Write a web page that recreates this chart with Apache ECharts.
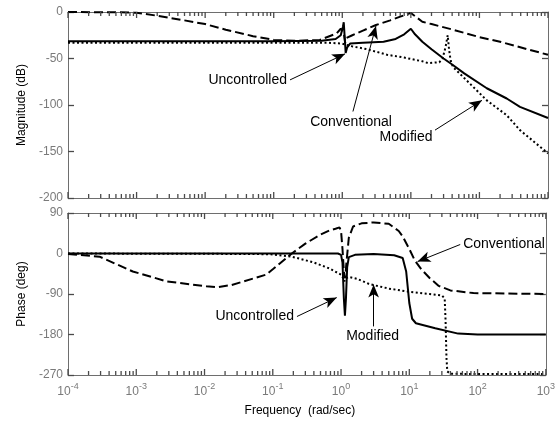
<!DOCTYPE html>
<html>
<head>
<meta charset="utf-8">
<script src="https://cdn.jsdelivr.net/npm/echarts@6/dist/echarts.min.js"></script>
<style>html,body{margin:0;padding:0;background:#fff;}#c{width:558px;height:424px;}</style>
</head>
<body>
<div id="c"></div>
<script>
// ---------- Magnitude (dB) ----------
const magUncF  = [1e-4, 0.1, 0.5, 0.8, 0.95, 1.02, 1.05, 1.08, 1.12, 1.18, 1.3, 2, 4, 6, 8, 10, 11.5, 14.7, 20, 30, 41, 60, 128, 250, 390, 1000];
const magUncDb = [-31.5, -31.5, -31, -29, -25, -16, -11, -25, -44, -38, -34, -33, -32, -29, -24, -18, -24, -32, -40, -50, -57, -66, -82, -93, -102, -114];

const magConF  = [1e-4, 5e-4, 1e-3, 2e-3, 5e-3, 1e-2, 2e-2, 5e-2, 0.1, 0.2, 0.47, 0.83, 0.95, 1.0, 1.05, 1.1, 1.15, 1.4, 2, 3.1, 5, 7, 10, 14.7, 20, 41, 100, 200, 500, 1000];
const magConDb = [0, -0.3, -0.8, -4, -9, -13, -19, -26, -30, -31, -30, -23, -18, -16, -22, -33, -28, -25, -20, -14, -9, -5, -1, -10.5, -13, -19, -27, -32, -40, -46];

const magModF  = [1e-4, 0.3, 0.6, 1, 1.4, 2.3, 4.5, 8, 14.7, 18, 26, 29, 32, 34.5, 36, 38, 41, 60, 128, 250, 390, 1000];
const magModDb = [-33, -33, -33, -34, -37, -40, -46, -49, -53, -55, -54, -50, -38, -25, -40, -52, -59, -71, -95, -111, -127, -152];

// ---------- Phase (deg) ----------
const phUncF   = [1e-4, 0.9, 1.0, 1.05, 1.1, 1.14, 1.18, 1.23, 1.3, 1.6, 3, 6, 8, 9, 10, 11, 12.5, 24, 52, 100, 1000];
const phUncDeg = [0, 0, -3, -20, -100, -138, -100, -30, -8, -3, -1, -4, -10, -40, -110, -145, -155, -166, -178, -180, -180];

const phConF   = [1e-4, 2.9e-4, 8.9e-4, 2.8e-3, 1.06e-2, 1.5e-2, 2.5e-2, 0.08, 0.1, 0.12, 0.19, 0.3, 0.5, 0.67, 0.83, 0.95, 1.0, 1.05, 1.1, 1.15, 1.2, 1.3, 1.5, 2, 3, 5, 7, 8, 10, 12, 15, 20, 27, 40, 87, 1000];
const phConDeg = [-1, -7, -40, -62, -73, -75, -70, -47, -35, -25, 0, 22, 42, 51, 55, 58, 50, 10, -40, -55, -20, 35, 60, 67, 69, 66, 50, 38, 10, -15, -35, -55, -72, -82, -88, -90];

const phModF   = [1e-4, 0.05, 0.1, 0.19, 0.4, 0.67, 1.0, 1.08, 1.12, 1.17, 1.3, 1.7, 2.6, 5, 10, 20, 30, 33, 34, 35, 36, 40, 100, 1000];
const phModDeg = [0, -1, -2, -7, -20, -33, -47, -55, -62, -55, -52, -56, -68, -78, -85, -90, -93, -100, -150, -230, -262, -267, -268, -268];

// ---------- Axis ticks ----------
const xDecades = [-4, -3, -2, -1, 0, 1, 2, 3];

// ---------- Annotations ----------
const magNotes = [
  {text: 'Uncontrolled', at: [0.167, -73], pos: 'left',   arrow: [[0.173, -73], [1.10, -45]]},
  {text: 'Conventional', at: [1.34, -118], pos: 'inside', arrow: [[1.43, -107], [3.1, -15]]},
  {text: 'Modified',     at: [8.5, -135],  pos: 'inside', arrow: [[22.5, -127], [109, -95]]}
];
const phNotes = [
  {text: 'Uncontrolled', at: [0.219, -140], pos: 'left',   arrow: [[0.226, -140], [0.865, -98]]},
  {text: 'Modified',     at: [2.9, -184],   pos: 'inside', arrow: [[3.0, -162], [3.0, -69]]},
  {text: 'Conventional', at: [57.5, 20],    pos: 'right',  arrow: [[55.7, 20], [13.2, -18]]}
];

const zip = (f, v) => f.map((x, i) => [x, v[i]]);
const xTicks = [];
xDecades.forEach(d => { for (let m = 1; m <= 9; m++) { const v = m * Math.pow(10, d); if (v <= 1000.0001) xTicks.push([Number(v.toPrecision(6)), m === 1 ? 1 : 0]); } });

const grey = '#6e6e6e';
const tickColor = '#4a4a4a';
const labelGrey = '#7a7a7a';
const FONT = 'Liberation Sans, Arial, sans-serif';

function xAxisDef(gridIndex, position, showLabel) {
  return {
    type: 'log', logBase: 10, min: 1e-4, max: 1e3, gridIndex, position,
    axisLine: {show: true, onZero: false, lineStyle: {color: grey, width: 1}},
    axisTick: {show: false},
    splitLine: {show: false}, minorTick: {show: false},
    axisLabel: showLabel ? {
      show: true, margin: 7, color: labelGrey, fontFamily: FONT,
      customValues: xDecades.map(d => Math.pow(10, d)),
      formatter: v => '{b|10}{s|' + Math.round(Math.log10(v)) + '}',
      rich: {b: {fontSize: 12, lineHeight: 20, color: labelGrey, fontFamily: FONT},
             s: {fontSize: 9, lineHeight: 7, verticalAlign: 'top', color: labelGrey, fontFamily: FONT}}
    } : {show: false},
    name: showLabel ? 'Frequency  (rad/sec)' : '',
    nameLocation: 'middle', nameGap: 30,
    nameTextStyle: {fontSize: 12, color: '#000', fontFamily: FONT, padding: [0, 14, 0, 0]}
  };
}
function yAxisDef(gridIndex, position, min, max, interval, name) {
  const left = position === 'left';
  return {
    type: 'value', gridIndex, position, min, max, interval,
    axisLine: {show: true, onZero: false, lineStyle: {color: grey, width: 1}},
    axisTick: {show: true, inside: true, length: 6, lineStyle: {color: tickColor, width: 1.3}},
    splitLine: {show: false},
    axisLabel: left ? {show: true, margin: 5, color: labelGrey, fontSize: 12, fontFamily: FONT} : {show: false},
    name: left ? name : '', nameLocation: 'middle', nameGap: 40,
    nameTextStyle: {fontSize: 12, color: '#000', fontFamily: FONT}
  };
}
function noteMarks(notes) {
  return {
    markLine: {
      silent: true, symbol: ['none', 'arrow'], symbolSize: [8, 13],
      lineStyle: {color: '#000', width: 1, type: 'solid'}, label: {show: false},
      data: notes.map(n => [{coord: n.arrow[0]}, {coord: n.arrow[1]}])
    },
    markPoint: {
      silent: true, symbol: 'circle', symbolSize: 0,
      data: notes.map(n => ({coord: n.at, label: {show: true, position: n.pos, distance: 2, formatter: n.text,
        color: '#000', fontSize: 14, fontFamily: FONT}}))
    }
  };
}
// log-spaced inside ticks (top and bottom edge of each panel), placed through the axis scale
function xTickSeries(xIdx, yIdx, yMid) {
  return {
    type: 'custom', xAxisIndex: xIdx, yAxisIndex: yIdx, clip: false, z: 10,
    data: xTicks.map(t => [t[0], yMid, t[1]]),
    renderItem: (params, api) => {
      const x = api.coord([api.value(0), yMid])[0];
      const cs = params.coordSys;
      const len = api.value(2) ? 6 : 4;
      const b = cs.y + cs.height;
      return {type: 'group', children: [
        {type: 'line', shape: {x1: x, y1: b, x2: x, y2: b - len}, style: {stroke: tickColor, lineWidth: 1.3}},
        {type: 'line', shape: {x1: x, y1: cs.y, x2: x, y2: cs.y + len}, style: {stroke: tickColor, lineWidth: 1.3}}
      ]};
    }
  };
}
const solid  = {color: '#000', width: 2, type: 'solid'};
const dashed = {color: '#000', width: 2, type: [9, 4]};
const dotted = {color: '#000', width: 2, type: [2, 2.5]};
function line(x, y, data, style, extra) {
  return Object.assign({type: 'line', xAxisIndex: x, yAxisIndex: y, data, symbol: 'none', showSymbol: false,
    lineStyle: style, z: 3}, extra || {});
}

const chart = echarts.init(document.getElementById('c'));
chart.setOption({
  animation: false,
  grid: [
    {left: 68, top: 12, width: 480, height: 186},
    {left: 68, top: 213, width: 480, height: 162}
  ],
  xAxis: [
    xAxisDef(0, 'bottom', false), xAxisDef(0, 'top', false),
    xAxisDef(1, 'bottom', true),  xAxisDef(1, 'top', false)
  ],
  yAxis: [
    yAxisDef(0, 'left', -200, 0, 50, 'Magnitude (dB)'), yAxisDef(0, 'right', -200, 0, 50, ''),
    yAxisDef(1, 'left', -270, 90, 90, 'Phase (deg)'),     yAxisDef(1, 'right', -270, 90, 90, '')
  ],
  series: [
    xTickSeries(0, 0, -100),
    xTickSeries(2, 2, -90),
    line(0, 0, zip(magConF, magConDb), dashed),
    line(0, 0, zip(magModF, magModDb), dotted),
    line(0, 0, zip(magUncF, magUncDb), solid, noteMarks(magNotes)),
    line(2, 2, zip(phConF, phConDeg), dashed),
    line(2, 2, zip(phModF, phModDeg), dotted),
    line(2, 2, zip(phUncF, phUncDeg), solid, noteMarks(phNotes))
  ]
});
</script>
</body>
</html>
